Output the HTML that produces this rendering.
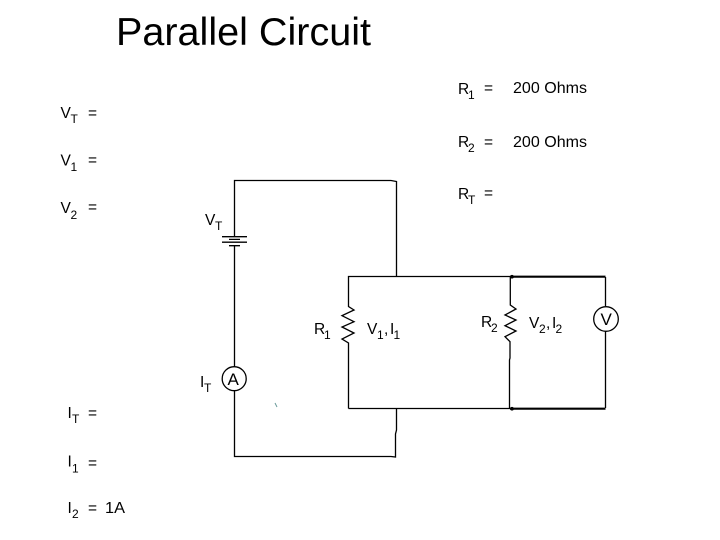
<!DOCTYPE html>
<html><head><meta charset="utf-8"><style>
html,body{margin:0;padding:0;background:#fff;width:720px;height:540px;overflow:hidden}
svg{display:block}
text{font-family:"Liberation Sans",sans-serif;fill:#000;font-size:15.5px}
.s{font-size:12px}
</style></head><body>
<svg width="720" height="540" viewBox="0 0 720 540">
<g fill="none" stroke="#000" stroke-width="1.3">
<path d="M234.5 236V180.5H391L396.5 181.5V276.5"/>
<path d="M234.5 246V367M234.5 391V456.5H391L395.5 457V434L396.5 430V408.5"/>
<path d="M222 236.7H247M222 242.2H247M229 239.4H240M229 245.7H240"/>
<circle cx="234.2" cy="378.7" r="12"/>
<path d="M348.5 408.5V343L342 339L354 333L342 327L354 321.7L342 315.7L354 310L348.5 306.5V276.5H510"/>
<path d="M348.5 408.5H510"/>
<path d="M510.3 276.5V305L516 309L505 315L516 320L505 325.7L516 331L505 336.7L510 341.7V358L509.5 360V408.5"/>
<path d="M605.5 277V306M605.5 331V408"/>
<circle cx="606" cy="319" r="12.3"/>
</g>
<path d="M510 276.7H605.5M510 408.7H605.5" stroke="#000" stroke-width="2.2" fill="none"/>
<circle cx="512" cy="276.7" r="1.8"/><circle cx="512" cy="408.7" r="1.8"/>
<path d="M275 403L277 407" stroke="#6a9a9a" stroke-width="1"/>

<text x="116" y="45" style="font-size:39px" textLength="255" lengthAdjust="spacingAndGlyphs">Parallel Circuit</text>

<text x="60.5" y="118">V</text><text class="s" x="70.5" y="123">T</text><text x="88" y="118">=</text>
<text x="60.5" y="165.5">V</text><text class="s" x="70.5" y="171">1</text><text x="88" y="165">=</text>
<text x="60.5" y="213">V</text><text class="s" x="70.5" y="219">2</text><text x="88" y="212">=</text>

<text x="458" y="94">R</text><text class="s" x="468" y="99">1</text><text x="484" y="93">=</text><text x="513" y="93" textLength="74" lengthAdjust="spacingAndGlyphs">200 Ohms</text>
<text x="458" y="147">R</text><text class="s" x="468" y="152">2</text><text x="484" y="147">=</text><text x="513" y="147" textLength="74" lengthAdjust="spacingAndGlyphs">200 Ohms</text>
<text x="458" y="199">R</text><text class="s" x="468" y="204">T</text><text x="484" y="198">=</text>

<text x="205" y="225">V</text><text class="s" x="215" y="230">T</text>
<text x="314" y="334">R</text><text class="s" x="324" y="339">1</text>
<text x="367" y="334">V</text><text class="s" x="377" y="339">1</text><text x="384" y="334">,</text><text x="390" y="334">I</text><text class="s" x="393.5" y="339">1</text>
<text x="481" y="327">R</text><text class="s" x="491" y="332">2</text>
<text x="529" y="328">V</text><text class="s" x="539" y="333">2</text><text x="546" y="328">,</text><text x="552" y="328">I</text><text class="s" x="555.5" y="333">2</text>
<text x="600.5" y="325" style="font-size:17px">V</text>
<text x="227.5" y="385" style="font-size:17px">A</text>
<text x="200" y="387">I</text><text class="s" x="204" y="392">T</text>

<text x="67.5" y="418">I</text><text class="s" x="72" y="423">T</text><text x="88" y="418">=</text>
<text x="67.5" y="466.5">I</text><text class="s" x="72" y="472.5">1</text><text x="88" y="468">=</text>
<text x="67.5" y="513">I</text><text class="s" x="72" y="518">2</text><text x="88" y="513">=</text><text x="105" y="513" textLength="20" lengthAdjust="spacingAndGlyphs">1A</text>
</svg>
</body></html>
